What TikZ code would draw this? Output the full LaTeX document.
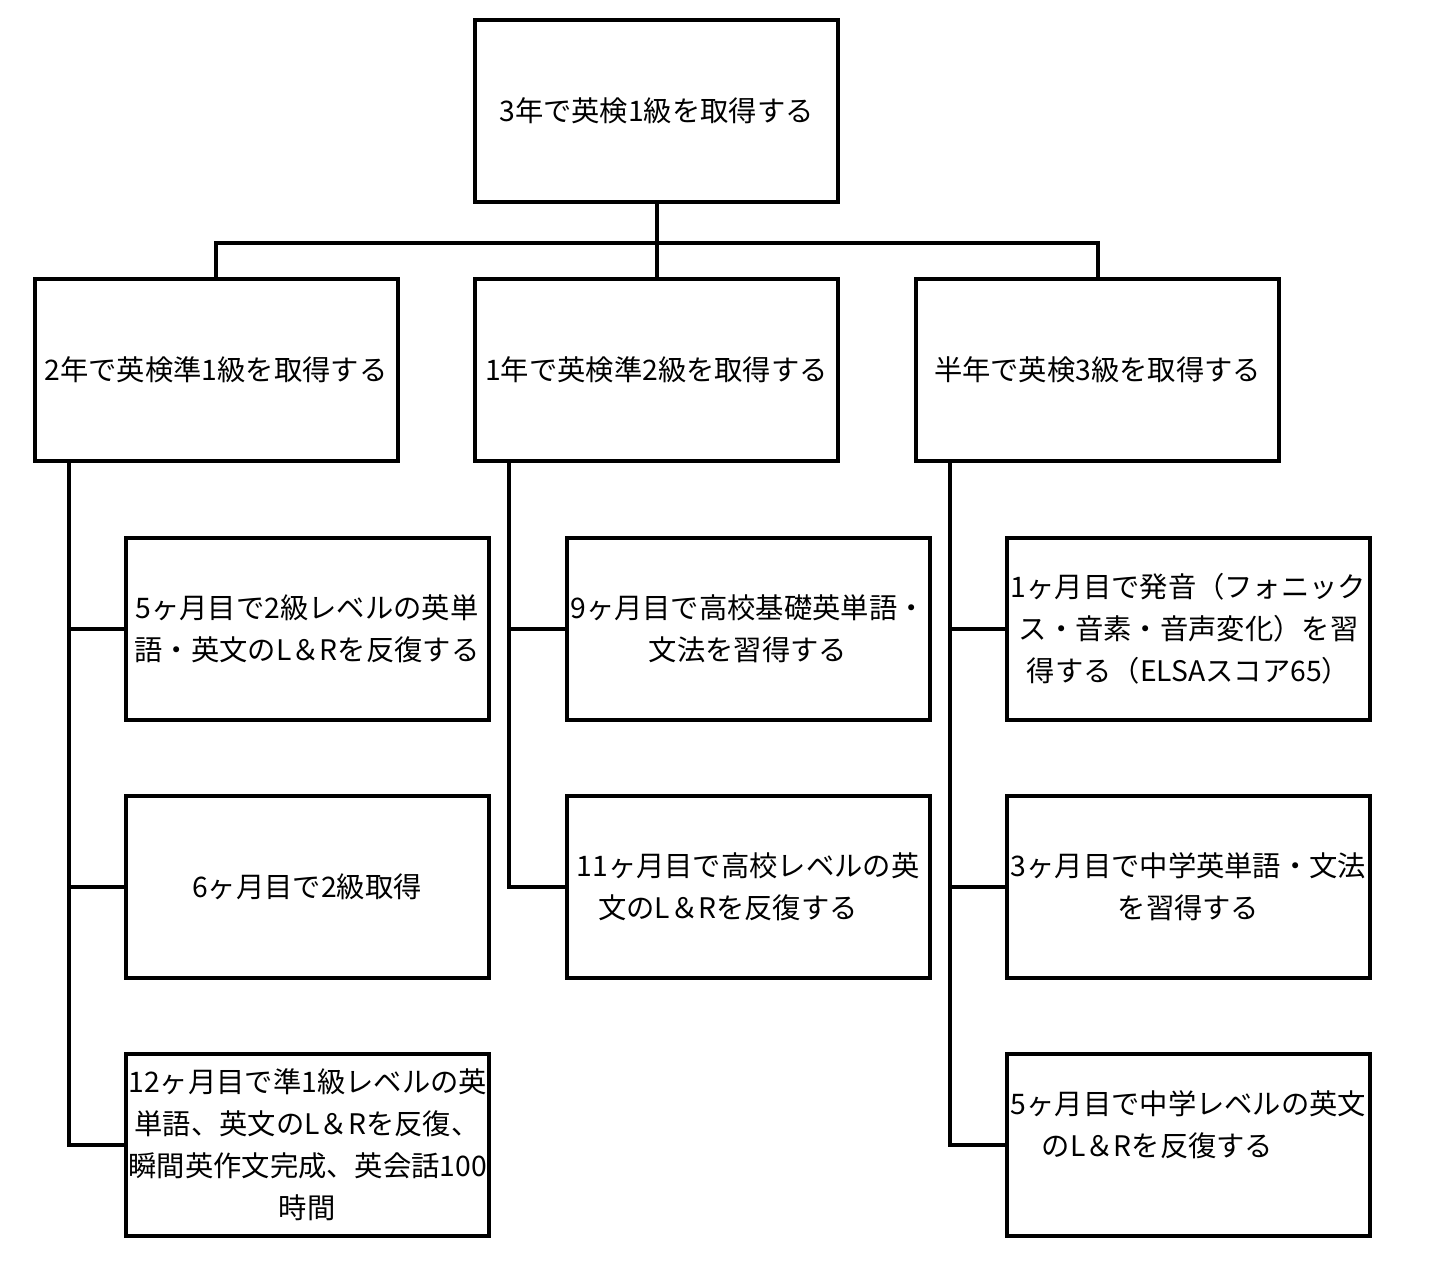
\documentclass[tikz,border=0pt]{standalone}
\usepackage{fontspec}
\setmainfont{Noto Sans CJK JP}
\begin{document}
\begin{tikzpicture}[x=1pt,y=-1pt,
  box/.style={draw,line width=4pt,minimum width=363pt,minimum height=182pt,inner sep=0pt,text width=357pt,align=center,font=\fontsize{28.3}{42}\selectfont},
  conn/.style={line width=4pt}]
\useasboundingbox (0,0) rectangle (1446,1276);
\node[box] (T) at (656.5,111) {3年で英検1級を取得する};
\node[box] (L) at (216,370) {2年で英検準1級を取得する};
\node[box] (M) at (656.5,370) {1年で英検準2級を取得する};
\node[box] (R) at (1097.5,370) {半年で英検3級を取得する};
\node[box] (L1) at (307,629) {5ヶ月目で2級レベルの英単\\語・英文のL＆Rを反復する};
\node[box] (L2) at (307,886.5) {6ヶ月目で2級取得};
\node[box] (L3) at (307,1145) {12ヶ月目で準1級レベルの英\\単語、英文のL＆Rを反復、\\瞬間英作文完成、英会話100\\時間};
\node[box] (M1) at (748,629) {9ヶ月目で高校基礎英単語・\\文法を習得する};
\node[box] (M2) at (748,886.5) {11ヶ月目で高校レベルの英\\文のL＆Rを反復する\rule{40pt}{0pt}};
\node[box] (R1) at (1188.5,629) {1ヶ月目で発音（フォニック\\ス・音素・音声変化）を習\\得する（ELSAスコア65）};
\node[box] (R2) at (1188.5,886.5) {3ヶ月目で中学英単語・文法\\を習得する};
\node[box] (R3) at (1188.5,1145) {5ヶ月目で中学レベルの英文\\のL＆Rを反復する\rule{62pt}{0pt}\\\rule{0pt}{1pt}};
\coordinate (bus) at ([yshift=-39pt]T.south);
\draw[conn] (T.south) -- (M.north);
\draw[conn] (bus) -| (L.north);
\draw[conn] (bus) -| (R.north);
\coordinate (Lb) at ([xshift=36pt]L.south west);
\coordinate (Mb) at ([xshift=36pt]M.south west);
\coordinate (Rb) at ([xshift=36pt]R.south west);
\draw[conn] (Lb) |- (L1.west);
\draw[conn] (Lb) |- (L2.west);
\draw[conn] (Lb) |- (L3.west);
\draw[conn] (Mb) |- (M1.west);
\draw[conn] (Mb) |- (M2.west);
\draw[conn] (Rb) |- (R1.west);
\draw[conn] (Rb) |- (R2.west);
\draw[conn] (Rb) |- (R3.west);
\end{tikzpicture}
\end{document}
